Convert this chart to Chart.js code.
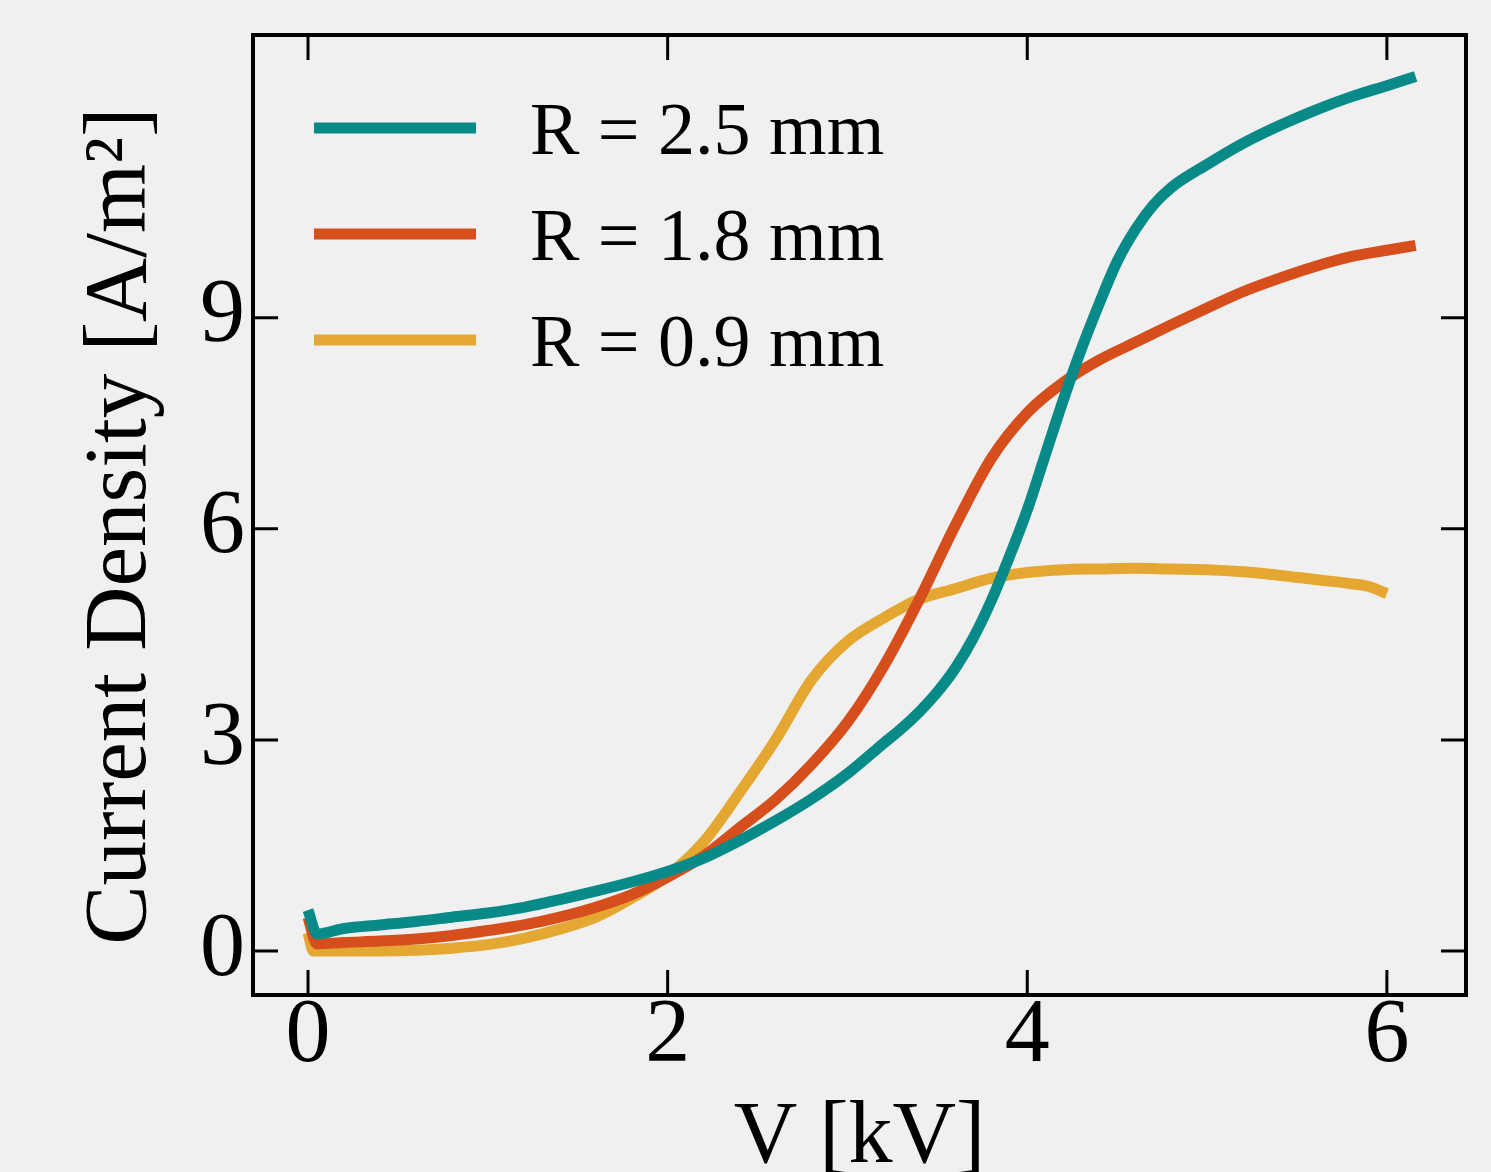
<!DOCTYPE html>
<html>
<head>
<meta charset="utf-8">
<script src="https://cdn.jsdelivr.net/npm/chart.js@4.4.0/dist/chart.umd.min.js"></script>
<style>
  html, body { margin: 0; padding: 0; background: #f0f0f0; }
  #wrap { width: 1491px; height: 1172px; position: relative; }
</style>
</head>
<body>
<div id="wrap"><canvas id="myChart"></canvas></div>
<script>
// series names
var seriesLabels = ["R = 2.5 mm", "R = 1.8 mm", "R = 0.9 mm"];

// R = 2.5 mm
var voltage25 = [0, 0.05, 0.2, 0.4, 0.6, 0.8, 1.0, 1.2, 1.4, 1.6, 1.8, 2.0, 2.2, 2.4, 2.6, 2.8, 3.0, 3.2, 3.3, 3.4, 3.5, 3.6, 3.7, 3.8, 3.9, 4.0, 4.1, 4.2, 4.3, 4.4, 4.5, 4.6, 4.7, 4.8, 5.0, 5.2, 5.4, 5.6, 5.8, 6.0, 6.16];
var density25 = [0.58, 0.24, 0.32, 0.37, 0.42, 0.48, 0.54, 0.62, 0.73, 0.85, 0.98, 1.13, 1.32, 1.57, 1.85, 2.16, 2.52, 2.95, 3.16, 3.4, 3.68, 4.02, 4.45, 4.98, 5.6, 6.27, 7.05, 7.83, 8.55, 9.2, 9.8, 10.25, 10.6, 10.85, 11.18, 11.48, 11.73, 11.95, 12.14, 12.3, 12.43];

// R = 1.8 mm
var voltage18 = [0, 0.05, 0.2, 0.4, 0.6, 0.8, 1.0, 1.2, 1.4, 1.6, 1.8, 2.0, 2.2, 2.4, 2.6, 2.8, 3.0, 3.2, 3.4, 3.6, 3.8, 4.0, 4.2, 4.4, 4.6, 4.8, 5.0, 5.2, 5.4, 5.6, 5.8, 6.0, 6.16];
var density18 = [0.48, 0.1, 0.12, 0.14, 0.17, 0.22, 0.29, 0.37, 0.48, 0.62, 0.8, 1.05, 1.35, 1.75, 2.15, 2.65, 3.25, 4.04, 5.0, 6.05, 7.0, 7.65, 8.08, 8.4, 8.65, 8.9, 9.14, 9.37, 9.56, 9.73, 9.87, 9.96, 10.03];

// R = 0.9 mm
var voltage09 = [0, 0.03, 0.2, 0.4, 0.6, 0.8, 1.0, 1.2, 1.4, 1.6, 1.8, 2.0, 2.2, 2.4, 2.6, 2.8, 3.0, 3.2, 3.4, 3.6, 3.8, 4.0, 4.2, 4.4, 4.6, 4.8, 5.0, 5.2, 5.4, 5.6, 5.8, 5.9, 6.0];
var density09 = [0.26, 0.0, 0.0, 0.0, 0.01, 0.04, 0.09, 0.18, 0.31, 0.48, 0.75, 1.07, 1.55, 2.25, 3.0, 3.85, 4.4, 4.73, 5.0, 5.15, 5.3, 5.38, 5.42, 5.43, 5.44, 5.43, 5.42, 5.39, 5.34, 5.28, 5.22, 5.18, 5.08];

// tick labels
var xTicks = [0, 2, 4, 6];
var yTicks = [0, 3, 6, 9];

var colors = ["#078a88", "#d64e1b", "#e4a832"];
var serif = "'Liberation Serif', 'Times New Roman', serif";

function toPoints(xs, ys) {
    return xs.map(function (x, i) { return { x: x, y: ys[i] }; });
}

function makeSet(i, xs, ys) {
    return {
        label: seriesLabels[i],
        data: toPoints(xs, ys),
        borderColor: colors[i],
        backgroundColor: colors[i],
        borderWidth: 11,
        borderCapStyle: 'butt',
        borderJoinStyle: 'round',
        pointRadius: 0,
        cubicInterpolationMode: 'monotone',
        showLine: true,
        fill: false
    };
}

// light grey page behind everything
var background = {
    id: 'background',
    beforeDraw: function (chart) {
        var ctx = chart.ctx;
        ctx.save();
        ctx.fillStyle = '#f0f0f0';
        ctx.fillRect(0, 0, chart.width, chart.height);
        ctx.restore();
    }
};

// box around the plot with inward ticks on all four sides
var frameTicks = {
    id: 'frameTicks',
    afterDatasetsDraw: function (chart) {
        var ctx = chart.ctx, a = chart.chartArea;
        var sx = chart.scales.x, sy = chart.scales.y;
        var len = 25;
        ctx.save();
        ctx.strokeStyle = '#000';
        ctx.lineWidth = 3;
        ctx.beginPath();
        xTicks.forEach(function (v) {
            var px = sx.getPixelForValue(v);
            ctx.moveTo(px, a.bottom); ctx.lineTo(px, a.bottom - len);
            ctx.moveTo(px, a.top); ctx.lineTo(px, a.top + len);
        });
        yTicks.forEach(function (v) {
            var py = sy.getPixelForValue(v);
            ctx.moveTo(a.left, py); ctx.lineTo(a.left + len, py);
            ctx.moveTo(a.right, py); ctx.lineTo(a.right - len, py);
        });
        ctx.stroke();
        ctx.lineWidth = 4;
        ctx.strokeRect(a.left, a.top, a.right - a.left, a.bottom - a.top);
        ctx.restore();
    }
};

// legend drawn inside the plot, top left
var insideLegend = {
    id: 'insideLegend',
    afterDraw: function (chart) {
        var ctx = chart.ctx;
        ctx.save();
        ctx.font = '74px ' + serif;
        ctx.textBaseline = 'alphabetic';
        ctx.textAlign = 'left';
        chart.data.datasets.forEach(function (ds, i) {
            var base = 154 + i * 106;
            ctx.strokeStyle = ds.borderColor;
            ctx.lineWidth = 11;
            ctx.lineCap = 'butt';
            ctx.beginPath();
            ctx.moveTo(314, base - 26);
            ctx.lineTo(476, base - 26);
            ctx.stroke();
            ctx.fillStyle = '#000';
            ctx.fillText(ds.label, 530, base);
        });
        ctx.restore();
    }
};

var ctx = document.getElementById("myChart").getContext('2d');
new Chart(ctx, {
    type: 'scatter',
    data: {
        datasets: [
            makeSet(0, voltage25, density25),
            makeSet(1, voltage18, density18),
            makeSet(2, voltage09, density09)
        ]
    },
    options: {
        responsive: true,
        maintainAspectRatio: false,
        animation: false,
        layout: { autoPadding: false, padding: { top: 35, right: 25, left: 0, bottom: 0 } },
        plugins: {
            legend: { display: false },
            tooltip: { enabled: false }
        },
        scales: {
            x: {
                type: 'linear',
                min: -0.306,
                max: 6.44,
                afterBuildTicks: function (axis) {
                    axis.ticks = xTicks.map(function (v) { return { value: v }; });
                },
                afterFit: function (scale) { scale.height = 177; },
                grid: { display: false, drawTicks: false },
                border: { display: false },
                ticks: {
                    color: '#000',
                    padding: 6,
                    maxRotation: 0,
                    font: { family: serif, size: 90, lineHeight: 0.8 }
                },
                title: {
                    display: true,
                    text: 'V [kV]',
                    color: '#000',
                    padding: 0,
                    font: { family: serif, size: 88, lineHeight: 0.75 }
                }
            },
            y: {
                type: 'linear',
                min: -0.626,
                max: 13.02,
                afterBuildTicks: function (axis) {
                    axis.ticks = yTicks.map(function (v) { return { value: v }; });
                },
                afterFit: function (scale) {
                    scale.width = 253;
                    scale.paddingTop = 0;
                    scale.paddingBottom = 0;
                },
                grid: { display: false, drawTicks: false },
                border: { display: false },
                ticks: {
                    color: '#000',
                    padding: 8,
                    font: { family: serif, size: 90, lineHeight: 0.5 }
                },
                title: {
                    display: true,
                    text: 'Current Density [A/m\u00b2] ',
                    color: '#000',
                    padding: { top: 68, bottom: 0 },
                    font: { family: serif, size: 89, lineHeight: 1.2 }
                }
            }
        }
    },
    plugins: [background, frameTicks, insideLegend]
});
</script>
</body>
</html>
